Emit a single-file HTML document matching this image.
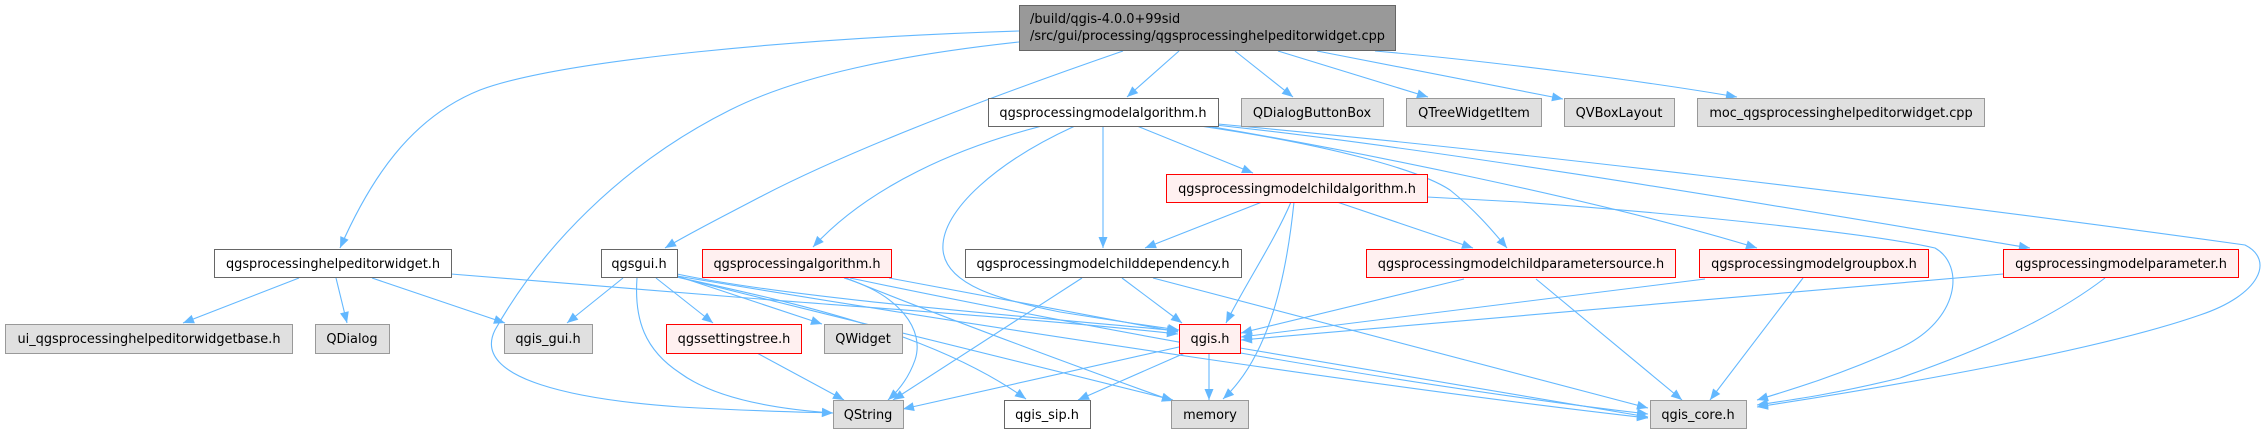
<!DOCTYPE html>
<html>
<head>
<meta charset="utf-8">
<style>
  html, body { margin: 0; padding: 0; background: #ffffff; }
  body { width: 2263px; height: 434px; overflow: hidden; }
  svg { display: block; }
  text { font-family: "DejaVu Sans", "Liberation Sans", sans-serif; font-size: 12.9px; fill: #000; }
</style>
</head>
<body>
<svg width="2263" height="434" viewBox="0 0 2263 434" xmlns="http://www.w3.org/2000/svg">
  <defs>
    <marker id="a" markerWidth="11" markerHeight="9" refX="11" refY="4.5" orient="auto" markerUnits="userSpaceOnUse" overflow="visible">
      <path d="M0,0 L11,4.5 L0,9 z" fill="#63b8ff"/>
    </marker>
  </defs>

  <!-- EDGES -->
  <g fill="none" stroke="#63b8ff" stroke-width="1.1" marker-end="url(#a)">
    <!-- from top node -->
    <path d="M1019,31 C800,38 560,60 480,90 C410,118 370,180 340,248"/>
    <path d="M1019,42 C900,55 800,75 730,110 C620,165 540,250 495,330 C470,380 580,400 680,407 C750,411 800,412 833,413"/>
    <path d="M1123,51 C1010,90 860,145 760,197 C720,218 690,233 665,248"/>
    <path d="M1179,51 L1127,97"/>
    <path d="M1235,51 L1293,97"/>
    <path d="M1278,51 L1428,97"/>
    <path d="M1317,51 L1563,99"/>
    <path d="M1375,51 C1500,62 1650,82 1737,97"/>

    <!-- qgsprocessinghelpeditorwidget.h -->
    <path d="M299,278 L183,323"/>
    <path d="M336,278 L347,323"/>
    <path d="M372,278 L505,323"/>
    <path d="M451,274 L760,299 C900,310 1050,320 1178,334"/>

    <!-- qgsgui.h -->
    <path d="M623,278 L567,323"/>
    <path d="M656,278 L713,323"/>
    <path d="M637,278 C634,320 645,350 680,373 C710,395 760,408 833,413"/>
    <path d="M677,276 L822,324"/>
    <path d="M677,274 C800,300 1050,318 1178,331"/>
    <path d="M677,277 C780,300 930,330 1026,399"/>
    <path d="M677,277 C850,320 1050,370 1173,400"/>
    <path d="M677,276 C1000,330 1400,390 1648,418"/>

    <!-- qgsprocessingalgorithm.h -->
    <path d="M844,278 C900,295 925,330 915,360 C908,380 897,392 888,400"/>
    <path d="M889,278 L1178,332"/>
    <path d="M846,278 C950,320 1100,375 1173,401"/>
    <path d="M850,278 C1100,330 1400,385 1648,414"/>

    <!-- qgsprocessingmodelalgorithm.h -->
    <path d="M1042,126 C960,147 870,185 813,247"/>
    <path d="M1075,126 C1000,160 940,210 943,250 C946,285 1000,300 1060,312 C1110,320 1150,326 1179,330"/>
    <path d="M1103,126 L1103,248"/>
    <path d="M1137,126 L1253,173"/>
    <path d="M1200,126 C1330,145 1420,170 1450,190 C1475,210 1492,230 1507,248"/>
    <path d="M1207,126 C1350,150 1600,200 1757,248"/>
    <path d="M1215,125 C1450,150 1800,210 2030,248"/>
    <path d="M1218,124 C1500,150 1900,197 2245,245 C2275,260 2260,295 2200,315 C2100,350 1900,385 1757,407"/>

    <!-- qgsprocessingmodelchildalgorithm.h -->
    <path d="M1262,202 L1145,248"/>
    <path d="M1291,202 C1275,240 1245,285 1226,323"/>
    <path d="M1294,202 C1285,290 1265,360 1223,399"/>
    <path d="M1337,202 L1473,248"/>
    <path d="M1427,197 L1520,202 C1700,215 1880,235 1935,248 C1965,265 1960,320 1900,348 C1840,375 1790,390 1757,400"/>

    <!-- qgsprocessingmodelchilddependency.h -->
    <path d="M1082,278 L893,400"/>
    <path d="M1122,278 L1182,323"/>
    <path d="M1153,278 L1648,408"/>

    <!-- qgsprocessingmodelchildparametersource.h -->
    <path d="M1464,279 L1241,333"/>
    <path d="M1536,279 L1682,400"/>

    <!-- qgsprocessingmodelgroupbox.h -->
    <path d="M1705,279 L1241,337"/>
    <path d="M1803,278 L1710,400"/>

    <!-- qgsprocessingmodelparameter.h -->
    <path d="M2003,274 L1241,340"/>
    <path d="M2105,278 C2050,320 1980,350 1900,378 C1830,395 1790,400 1757,405"/>

    <!-- qgis.h -->
    <path d="M1179,347 L903,409"/>
    <path d="M1185,353 L1078,400"/>
    <path d="M1209,353 L1209,400"/>
    <path d="M1240,348 L1648,417"/>

    <!-- qgssettingstree.h -->
    <path d="M757,353 L844,400"/>
  </g>

  <!-- NODES -->
  <g stroke-width="1">
    <!-- top node -->
    <rect x="1019.5" y="5.5" width="376" height="45" fill="#999999" stroke="#666666"/>
    <!-- white nodes -->
    <rect x="988.5" y="98.5" width="230" height="28" fill="#ffffff" stroke="#666666"/>
    <rect x="214.5" y="249.5" width="237" height="28" fill="#ffffff" stroke="#666666"/>
    <rect x="601.5" y="249.5" width="76" height="28" fill="#ffffff" stroke="#666666"/>
    <rect x="965.5" y="249.5" width="276" height="28" fill="#ffffff" stroke="#666666"/>
    <rect x="1004.5" y="400.5" width="86" height="28" fill="#ffffff" stroke="#666666"/>
    <!-- gray nodes -->
    <rect x="1241.5" y="98.5" width="142" height="28" fill="#e0e0e0" stroke="#999999"/>
    <rect x="1406.5" y="98.5" width="135" height="28" fill="#e0e0e0" stroke="#999999"/>
    <rect x="1564.5" y="98.5" width="110" height="28" fill="#e0e0e0" stroke="#999999"/>
    <rect x="1697.5" y="98.5" width="287" height="28" fill="#e0e0e0" stroke="#999999"/>
    <rect x="5.5" y="324.5" width="287" height="29" fill="#e0e0e0" stroke="#999999"/>
    <rect x="315.5" y="324.5" width="74" height="29" fill="#e0e0e0" stroke="#999999"/>
    <rect x="504.5" y="324.5" width="88" height="29" fill="#e0e0e0" stroke="#999999"/>
    <rect x="824.5" y="324.5" width="78" height="29" fill="#e0e0e0" stroke="#999999"/>
    <rect x="833.5" y="400.5" width="70" height="28" fill="#e0e0e0" stroke="#999999"/>
    <rect x="1171.5" y="400.5" width="77" height="28" fill="#e0e0e0" stroke="#999999"/>
    <rect x="1650.5" y="400.5" width="96" height="28" fill="#e0e0e0" stroke="#999999"/>
    <!-- red nodes -->
    <rect x="1166.5" y="174.5" width="261" height="28" fill="#fff0f0" stroke="#ff0000"/>
    <rect x="702.5" y="249.5" width="189" height="28" fill="#fff0f0" stroke="#ff0000"/>
    <rect x="1366.5" y="249.5" width="309" height="28" fill="#fff0f0" stroke="#ff0000"/>
    <rect x="1699.5" y="249.5" width="229" height="28" fill="#fff0f0" stroke="#ff0000"/>
    <rect x="2003.5" y="249.5" width="235" height="28" fill="#fff0f0" stroke="#ff0000"/>
    <rect x="666.5" y="324.5" width="135" height="29" fill="#fff0f0" stroke="#ff0000"/>
    <rect x="1179.5" y="324.5" width="61" height="29" fill="#fff0f0" stroke="#ff0000"/>
  </g>

  <!-- LABELS -->
  <text x="1030" y="23">/build/qgis-4.0.0+99sid</text>
  <text x="1030" y="40">/src/gui/processing/qgsprocessinghelpeditorwidget.cpp</text>

  <g text-anchor="middle">
    <text x="1103" y="117">qgsprocessingmodelalgorithm.h</text>
    <text x="1312" y="117">QDialogButtonBox</text>
    <text x="1474" y="117">QTreeWidgetItem</text>
    <text x="1619" y="117">QVBoxLayout</text>
    <text x="1841" y="117">moc_qgsprocessinghelpeditorwidget.cpp</text>

    <text x="1297" y="193">qgsprocessingmodelchildalgorithm.h</text>

    <text x="333" y="268">qgsprocessinghelpeditorwidget.h</text>
    <text x="639" y="268">qgsgui.h</text>
    <text x="797" y="268">qgsprocessingalgorithm.h</text>
    <text x="1103" y="268">qgsprocessingmodelchilddependency.h</text>
    <text x="1521" y="268">qgsprocessingmodelchildparametersource.h</text>
    <text x="1814" y="268">qgsprocessingmodelgroupbox.h</text>
    <text x="2121" y="268">qgsprocessingmodelparameter.h</text>

    <text x="149" y="343">ui_qgsprocessinghelpeditorwidgetbase.h</text>
    <text x="352" y="343">QDialog</text>
    <text x="548" y="343">qgis_gui.h</text>
    <text x="734" y="343">qgssettingstree.h</text>
    <text x="863" y="343">QWidget</text>
    <text x="1210" y="343">qgis.h</text>

    <text x="868" y="419">QString</text>
    <text x="1047" y="419">qgis_sip.h</text>
    <text x="1210" y="419">memory</text>
    <text x="1698" y="419">qgis_core.h</text>
  </g>
</svg>
</body>
</html>
